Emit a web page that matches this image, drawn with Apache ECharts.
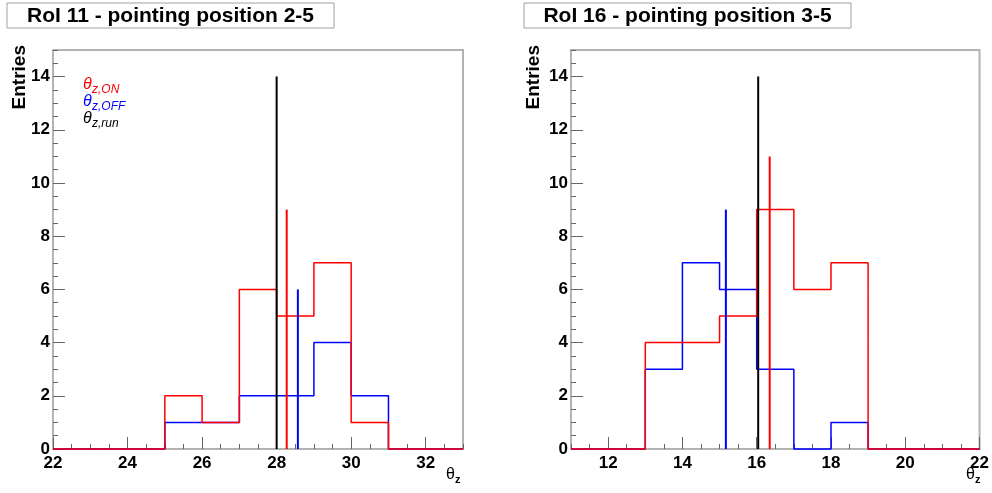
<!DOCTYPE html>
<html>
<head>
<meta charset="utf-8">
<script src="https://cdn.jsdelivr.net/npm/echarts@6/dist/echarts.min.js"></script>
<style>
html,body{margin:0;padding:0;background:#fff;}
#chart{width:992px;height:493px;}
</style>
</head>
<body>
<div id="chart"></div>
<script>
// ---------- DATA ----------
const titleLeft = 'RoI 11 - pointing position 2-5';
const titleRight = 'RoI 16 - pointing position 3-5';

// left panel: bin lower edges (width 1) and counts
const binLowLeft = [22, 23, 24, 25, 26, 27, 28, 29, 30, 31, 32];
const binHighLeft = 33;
const onLeft  = [0, 0, 0, 2, 1, 6, 5, 7, 1, 0, 0];
const offLeft = [0, 0, 0, 1, 1, 2, 2, 4, 2, 0, 0];
// mean lines: [x, height]
const meanOnLeft  = [28.27, 9];
const meanOffLeft = [28.57, 6];
const runLeft     = [28.0, 14];

// right panel
const binLowRight = [11, 12, 13, 14, 15, 16, 17, 18, 19, 20, 21];
const binHighRight = 22;
const onRight  = [0, 0, 4, 4, 5, 9, 6, 7, 0, 0, 0];
const offRight = [0, 0, 3, 7, 6, 3, 0, 1, 0, 0, 0];
const meanOnRight  = [16.35, 11];
const meanOffRight = [15.17, 9];
const runRight     = [16.04, 14];

// axes
const xRangeLeft = [22, 33];
const xRangeRight = [11, 22];
const yRange = [0, 15];
const xTicksLeft = [22, 24, 26, 28, 30, 32];
const xTicksRight = [12, 14, 16, 18, 20, 22];
const yTicks = [0, 2, 4, 6, 8, 10, 12, 14];

// ---------- BUILD ----------
const FONT = 'Liberation Sans, Arial, Helvetica, sans-serif';
const FRAME = '#b3b3b3';
const TICK = '#666';
const RED = '#ff0000', BLUE = '#0000ff', BLACK = '#000000';

function histData(lows, high, counts) {
  const d = lows.map((x, i) => [x, counts[i]]);
  d.push([high, counts[counts.length - 1]]);
  return d;
}

const grids = [
  {left: 53, right: 529, top: 50, bottom: 44},
  {left: 571, right: 11, top: 50, bottom: 44}
];

function xAxesFor(gi, range, ticks) {
  return [
    {
      type: 'value', gridIndex: gi, min: range[0], max: range[1], interval: 0.5, position: 'bottom',
      axisLine: {show: true, onZero: false, lineStyle: {color: FRAME, width: 2}},
      axisTick: {show: true, inside: true, length: 5, lineStyle: {color: TICK, width: 1}},
      axisLabel: {customValues: ticks, margin: 6, color: '#000', fontSize: 17, fontWeight: 'bold', fontFamily: FONT},
      splitLine: {show: false}
    },
    {
      type: 'value', gridIndex: gi, min: range[0], max: range[1], interval: 0.5, position: 'bottom',
      axisLine: {show: false},
      axisTick: {show: true, inside: true, length: 12, customValues: ticks, lineStyle: {color: TICK, width: 1}},
      axisLabel: {show: false},
      splitLine: {show: false}
    }
  ];
}
function yAxesFor(gi) {
  return [
    {
      type: 'value', gridIndex: gi, min: yRange[0], max: yRange[1], interval: 0.5, position: 'left',
      axisLine: {show: true, onZero: false, lineStyle: {color: FRAME, width: 2}},
      axisTick: {show: true, inside: true, length: 5, lineStyle: {color: TICK, width: 1}},
      axisLabel: {customValues: yTicks, margin: 3, color: '#000', fontSize: 17, fontWeight: 'bold', fontFamily: FONT},
      splitLine: {show: false}
    },
    {
      type: 'value', gridIndex: gi, min: yRange[0], max: yRange[1], interval: 0.5, position: 'left',
      axisLine: {show: false},
      axisTick: {show: true, inside: true, length: 12, customValues: yTicks, lineStyle: {color: TICK, width: 1}},
      axisLabel: {show: false},
      splitLine: {show: false}
    }
  ];
}

function histSeries(xi, yi, data, color) {
  return {
    type: 'line', xAxisIndex: xi, yAxisIndex: yi, data: data, step: 'end',
    showSymbol: false, symbol: 'none', clip: false, silent: true, animation: false,
    lineStyle: {color: color, width: 1.5}
  };
}
function vline(xi, yi, m, color) {
  return {
    type: 'line', xAxisIndex: xi, yAxisIndex: yi, data: [[m[0], 0], [m[0], m[1]]],
    showSymbol: false, symbol: 'none', clip: false, silent: true, animation: false,
    lineStyle: {color: color, width: 2}
  };
}

function titleBox(x, w, text) {
  return {
    type: 'group', children: [
      {type: 'rect', shape: {x: x, y: 3, width: w, height: 25},
       style: {fill: '#fff', stroke: '#a0a0a0', lineWidth: 1}},
      {type: 'text', x: x + w / 2, y: 16,
       style: {text: text, textAlign: 'center', textVerticalAlign: 'middle',
               font: 'bold 21px ' + FONT, fill: '#000'}}
    ]
  };
}
function entriesLabel(x) {
  return {type: 'text', x: x, y: 45, rotation: Math.PI / 2,
          style: {text: 'Entries', textAlign: 'right', textVerticalAlign: 'middle',
                  font: 'bold 19px ' + FONT, fill: '#000'}};
}
function thetaLabel(x) {
  return {
    type: 'group', children: [
      {type: 'text', x: x, y: 475, style: {text: 'θ', textAlign: 'left', textVerticalAlign: 'middle', font: '16px ' + FONT, fill: '#000'}},
      {type: 'text', x: x + 9, y: 480, style: {text: 'z', textAlign: 'left', textVerticalAlign: 'middle', font: 'bold 11px ' + FONT, fill: '#000'}}
    ]
  };
}
function legendEntry(y, sub, color) {
  return {
    type: 'group', children: [
      {type: 'text', x: 83, y: y, style: {text: 'θ', textAlign: 'left', textVerticalAlign: 'middle', font: 'italic 16px ' + FONT, fill: color}},
      {type: 'text', x: 92, y: y + 5, style: {text: sub, textAlign: 'left', textVerticalAlign: 'middle', font: 'italic 12px ' + FONT, fill: color}}
    ]
  };
}

const option = {
  animation: false,
  backgroundColor: '#fff',
  grid: grids.map(g => Object.assign({show: true, borderColor: FRAME, borderWidth: 2, backgroundColor: 'transparent'}, g)),
  xAxis: [].concat(xAxesFor(0, xRangeLeft, xTicksLeft), xAxesFor(1, xRangeRight, xTicksRight)),
  yAxis: [].concat(yAxesFor(0), yAxesFor(1)),
  series: [
    histSeries(0, 0, histData(binLowLeft, binHighLeft, offLeft), BLUE),
    histSeries(0, 0, histData(binLowLeft, binHighLeft, onLeft), RED),
    vline(0, 0, runLeft, BLACK),
    vline(0, 0, meanOnLeft, RED),
    vline(0, 0, meanOffLeft, BLUE),
    histSeries(2, 2, histData(binLowRight, binHighRight, offRight), BLUE),
    histSeries(2, 2, histData(binLowRight, binHighRight, onRight), RED),
    vline(2, 2, runRight, BLACK),
    vline(2, 2, meanOnRight, RED),
    vline(2, 2, meanOffRight, BLUE)
  ],
  graphic: [
    titleBox(7, 327, titleLeft),
    titleBox(524, 327, titleRight),
    entriesLabel(20),
    entriesLabel(534),
    thetaLabel(446),
    thetaLabel(966),
    legendEntry(85, 'z,ON', RED),
    legendEntry(102, 'z,OFF', BLUE),
    legendEntry(119, 'z,run', BLACK)
  ]
};

const chart = echarts.init(document.getElementById('chart'), null, {renderer: 'canvas'});
chart.setOption(option);
</script>
</body>
</html>
